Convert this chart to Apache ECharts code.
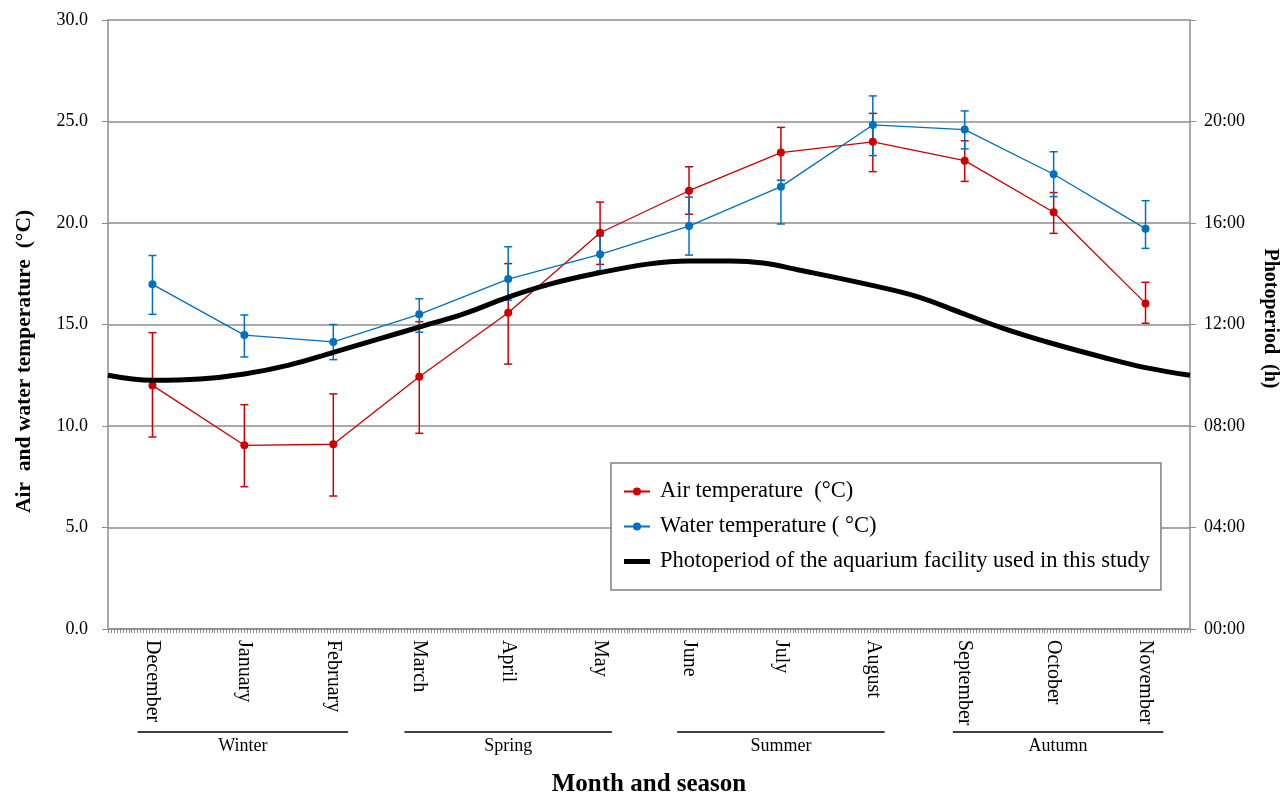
<!DOCTYPE html>
<html>
<head>
<meta charset="utf-8">
<script src="https://cdn.jsdelivr.net/npm/echarts@6/dist/echarts.min.js"></script>
<style>
  html, body { margin: 0; padding: 0; background: #fff; }
  #chart { width: 1283px; height: 796px; }
</style>
</head>
<body>
<div id="chart"></div>
<script>
// months, placed at mid-month (day 0 = 1 December)
const months = ["December", "January", "February", "March", "April", "May",
  "June", "July", "August", "September", "October", "November"];
const monthDays = [15, 46, 76, 105, 135, 166, 196, 227, 258, 289, 319, 350];

// air temperature (°C) with error bar ends
const airTemp = [12.0, 9.05, 9.1, 12.43, 15.58, 19.52, 21.59, 23.47, 24.0, 23.07, 20.53, 16.04];
const airLow = [9.46, 7.01, 6.55, 9.64, 13.05, 17.96, 20.43, 22.1, 22.53, 22.05, 19.49, 15.06];
const airHigh = [14.6, 11.05, 11.58, 15.14, 18.0, 21.03, 22.77, 24.71, 25.4, 24.05, 21.5, 17.08];

// water temperature (°C) with error bar ends
const waterTemp = [16.98, 14.48, 14.14, 15.5, 17.24, 18.46, 19.85, 21.79, 24.83, 24.6, 22.4, 19.72];
const waterLow = [15.5, 13.4, 13.27, 14.62, 16.2, 17.65, 18.42, 19.95, 23.32, 23.65, 21.3, 18.75];
const waterHigh = [18.4, 15.47, 15.0, 16.27, 18.83, 19.36, 21.27, 22.1, 26.26, 25.52, 23.51, 21.1];

// photoperiod (hours of light)
const photoDays = [0, 15, 31, 46, 61, 76, 92, 105, 120, 135, 150, 165, 182, 196, 210, 221, 233, 257, 273, 288, 302, 318, 335, 350, 365];
const photoHours = [10.0, 9.8, 9.85, 10.05, 10.4, 10.9, 11.45, 11.9, 12.42, 13.08, 13.62, 14.02, 14.38, 14.5, 14.5, 14.42, 14.15, 13.56, 13.1, 12.45, 11.85, 11.27, 10.73, 10.3, 10.0];

// seasons drawn under the month labels (start / end day)
const seasons = ["Winter", "Spring", "Summer", "Autumn"];
const seasonStart = [10, 100, 192, 285];
const seasonEnd = [81, 170, 262, 356];

const RED = "#cc0000";
const BLUE = "#0070c0";
const GRAY = "#8c8c8c";
const FONT = "'Liberation Serif', 'Times New Roman', serif";

const monthAt = {};
monthDays.forEach((d, i) => { monthAt[d] = months[i]; });

function errorBars(name, low, high, color) {
  return {
    type: "custom",
    name: name,
    silent: true,
    z: 2,
    data: monthDays.map((d, i) => [d, low[i], high[i]]),
    renderItem: function (params, api) {
      const lo = api.coord([api.value(0), api.value(1)]);
      const hi = api.coord([api.value(0), api.value(2)]);
      const hw = 4;
      const style = { stroke: color, lineWidth: 1.5 };
      return {
        type: "group",
        children: [
          { type: "line", shape: { x1: lo[0], y1: lo[1], x2: hi[0], y2: hi[1] }, style: style },
          { type: "line", shape: { x1: lo[0] - hw, y1: lo[1], x2: lo[0] + hw, y2: lo[1] }, style: style },
          { type: "line", shape: { x1: hi[0] - hw, y1: hi[1], x2: hi[0] + hw, y2: hi[1] }, style: style },
        ],
      };
    },
  };
}

const chart = echarts.init(document.getElementById("chart"));

const option = {
  animation: false,
  backgroundColor: "#fff",
  textStyle: { fontFamily: FONT, color: "#000" },
  grid: { left: 108, right: 93, top: 20, bottom: 167, outerBoundsMode: "none", containLabel: false },
  legend: {
    orient: "vertical",
    left: 611,
    top: 463,
    data: [
      "Air temperature  (°C)",
      "Water temperature ( °C)",
      {
        name: "Photoperiod of the aquarium facility used in this study",
        icon: "path://M0,0L0,0M0,10L0,10M0,2.5L26,2.5L26,7.5L0,7.5Z",
      },
    ],
    backgroundColor: "#fff",
    borderColor: "#808080",
    borderWidth: 1.5,
    borderRadius: 0,
    padding: [17, 11, 17, 12],
    itemGap: 12,
    itemWidth: 26,
    itemHeight: 10,
    textStyle: { fontFamily: FONT, fontSize: 22.5, lineHeight: 22, color: "#000", padding: [0, 0, 0, 5] },
  },
  xAxis: {
    type: "value",
    min: 0,
    max: 365,
    interval: 1,
    name: "Month and season",
    nameLocation: "middle",
    nameGap: 143,
    nameTextStyle: { fontFamily: FONT, fontSize: 25, fontWeight: "bold", color: "#000" },
    axisLine: { show: true, lineStyle: { color: GRAY, width: 1.5 } },
    axisTick: { show: true, length: 4, lineStyle: { color: GRAY, width: 1 } },
    splitLine: { show: false },
    axisLabel: {
      rotate: -90,
      margin: 11,
      fontFamily: FONT,
      fontSize: 20,
      color: "#000",
      formatter: (v) => monthAt[v] || "",
    },
  },
  yAxis: [
    {
      type: "value",
      min: 0,
      max: 30,
      interval: 5,
      name: "Air  and water temperature  (°C)",
      nameLocation: "middle",
      nameGap: 73,
      nameTextStyle: { fontFamily: FONT, fontSize: 21.5, fontWeight: "bold", color: "#000", padding: [0, 74, 0, 0] },
      axisLine: { show: true, lineStyle: { color: GRAY, width: 1.5 } },
      axisTick: { show: true, length: 6, lineStyle: { color: GRAY } },
      splitLine: { show: true, lineStyle: { color: GRAY, width: 1.5 } },
      axisLabel: { margin: 20, fontFamily: FONT, fontSize: 18, color: "#000", formatter: (v) => v.toFixed(1) },
    },
    {
      type: "value",
      min: 0,
      max: 24,
      interval: 4,
      position: "right",
      name: "Photoperiod  (h)",
      nameLocation: "middle",
      nameRotate: -90,
      nameGap: 70,
      nameTextStyle: { fontFamily: FONT, fontSize: 20, fontWeight: "bold", color: "#000", padding: [0, 12, 0, 0] },
      axisLine: { show: true, lineStyle: { color: GRAY, width: 1.5 } },
      axisTick: { show: true, length: 6, lineStyle: { color: GRAY } },
      splitLine: { show: false },
      axisLabel: {
        margin: 14,
        fontFamily: FONT,
        fontSize: 18,
        color: "#000",
        formatter: (v) => (v >= 24 ? "" : String(v).padStart(2, "0") + ":00"),
      },
    },
  ],
  series: [
    errorBars("air-err", airLow, airHigh, RED),
    errorBars("water-err", waterLow, waterHigh, BLUE),
    {
      name: "Air temperature  (°C)",
      type: "line",
      z: 3,
      data: monthDays.map((d, i) => [d, airTemp[i]]),
      symbol: "circle",
      symbolSize: 8,
      lineStyle: { color: RED, width: 1.3 },
      itemStyle: { color: RED },
    },
    {
      name: "Water temperature ( °C)",
      type: "line",
      z: 3,
      data: monthDays.map((d, i) => [d, waterTemp[i]]),
      symbol: "circle",
      symbolSize: 8,
      lineStyle: { color: BLUE, width: 1.3 },
      itemStyle: { color: BLUE },
    },
    {
      name: "Photoperiod of the aquarium facility used in this study",
      type: "line",
      yAxisIndex: 1,
      z: 4,
      smooth: 0.4,
      symbol: "none",
      data: photoDays.map((d, i) => [d, photoHours[i]]),
      lineStyle: { color: "#000", width: 5 },
      itemStyle: { color: "#000" },
    },
  ],
};

chart.setOption(option);

// season brackets under the month labels
const graphics = [];
seasons.forEach((s, i) => {
  const x1 = chart.convertToPixel({ xAxisIndex: 0 }, seasonStart[i]);
  const x2 = chart.convertToPixel({ xAxisIndex: 0 }, seasonEnd[i]);
  graphics.push({
    type: "line",
    shape: { x1: x1, y1: 732, x2: x2, y2: 732 },
    style: { stroke: "#404040", lineWidth: 2 },
  });
  graphics.push({
    type: "text",
    x: (x1 + x2) / 2,
    y: 746,
    style: { text: s, fontFamily: FONT, fontSize: 18, fill: "#000", align: "center", verticalAlign: "middle" },
  });
});
chart.setOption({ graphic: graphics });
</script>
</body>
</html>
